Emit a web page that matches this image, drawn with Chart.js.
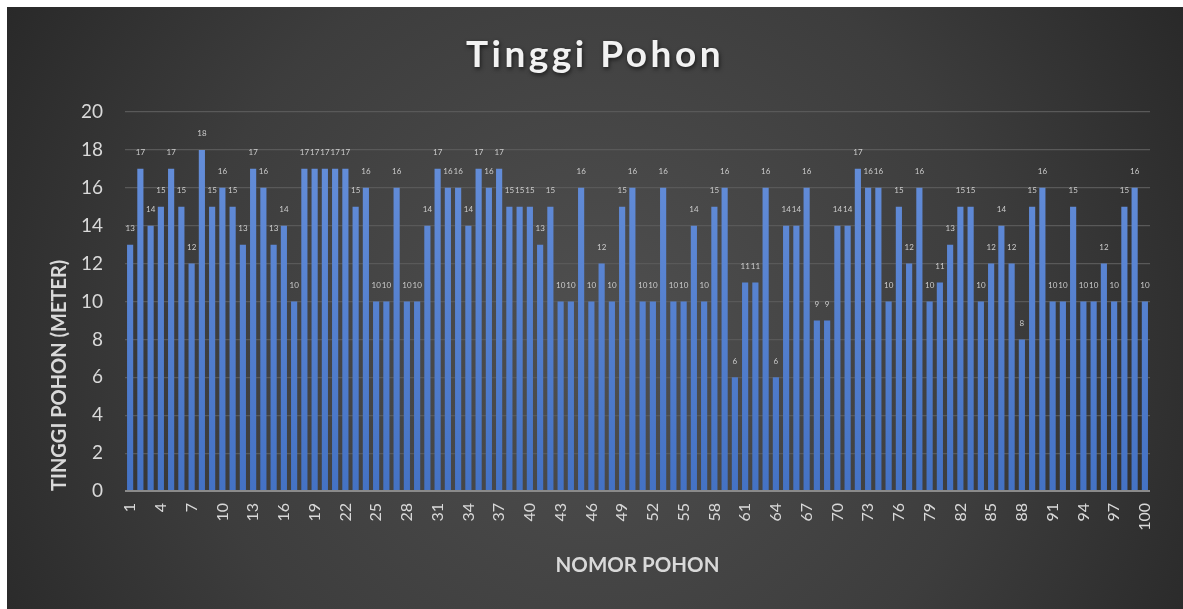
<!DOCTYPE html>
<html>
<head>
<meta charset="utf-8">
<script src="https://cdn.jsdelivr.net/npm/chart.js@4.4.1/dist/chart.umd.min.js"></script>
<style>
  html, body { margin: 0; padding: 0; background: #ffffff; }
  #wrap { position: absolute; left: 7px; top: 7px; width: 1176px; height: 602px; }
</style>
</head>
<body>
<div id="wrap"><canvas id="c"></canvas></div>
<script>
const TITLE = 'Tinggi Pohon';
const X_TITLE = 'NOMOR POHON';
const Y_TITLE = 'TINGGI POHON (METER)';
const CATEGORIES = Array.from({length: 100}, (_, i) => String(i + 1));
const HEIGHTS = [
  13, 17, 14, 15, 17, 15, 12, 18, 15, 16,
  15, 13, 17, 16, 13, 14, 10, 17, 17, 17,
  17, 17, 15, 16, 10, 10, 16, 10, 10, 14,
  17, 16, 16, 14, 17, 16, 17, 15, 15, 15,
  13, 15, 10, 10, 16, 10, 12, 10, 15, 16,
  10, 10, 16, 10, 10, 14, 10, 15, 16, 6,
  11, 11, 16, 6, 14, 14, 16, 9, 9, 14,
  14, 17, 16, 16, 10, 15, 12, 16, 10, 11,
  13, 15, 15, 10, 12, 14, 12, 8, 15, 16,
  10, 10, 15, 10, 10, 12, 10, 15, 16, 10
];
const Y_MIN = 0, Y_MAX = 20, Y_STEP = 2;

const bgPlugin = {
  id: 'bg',
  beforeDraw(chart) {
    const {ctx, width, height} = chart;
    ctx.save();
    const g = ctx.createRadialGradient(width * 0.5, height * 0.55, 10, width * 0.5, height * 0.55, width * 0.62);
    g.addColorStop(0, '#4f4f4f');
    g.addColorStop(0.55, '#3d3d3d');
    g.addColorStop(1, '#252525');
    ctx.fillStyle = g;
    ctx.fillRect(0, 0, width, height);
    ctx.restore();
  }
};

const titlePlugin = {
  id: 'customTitle',
  afterDraw(chart) {
    const {ctx} = chart;
    ctx.save();
    ctx.font = 'bold 37px Lato, "Open Sans", sans-serif';
    ctx.letterSpacing = '3.5px';
    ctx.fillStyle = '#f2f2f2';
    ctx.textAlign = 'center';
    ctx.textBaseline = 'middle';
    ctx.shadowColor = 'rgba(0,0,0,0.6)';
    ctx.shadowBlur = 4;
    ctx.shadowOffsetX = 1;
    ctx.shadowOffsetY = 2;
    ctx.fillText(TITLE, 588, 48);
    ctx.restore();
  }
};

const labelPlugin = {
  id: 'barLabels',
  afterDatasetsDraw(chart) {
    const {ctx} = chart;
    const meta = chart.getDatasetMeta(0);
    ctx.save();
    ctx.font = '8px Lato, "Open Sans", sans-serif';
    ctx.fillStyle = '#cccccc';
    ctx.textAlign = 'center';
    ctx.textBaseline = 'middle';
    meta.data.forEach((bar, i) => {
      ctx.fillText(String(HEIGHTS[i]), bar.x, bar.y - 16);
    });
    ctx.restore();
  }
};

const ctx = document.getElementById('c').getContext('2d');
new Chart(ctx, {
  type: 'bar',
  data: {
    labels: CATEGORIES,
    datasets: [{
      label: 'Tinggi Pohon',
      data: HEIGHTS,
      backgroundColor(context) {
        const area = context.chart.chartArea;
        if (!area) return '#4472c4';
        const g = context.chart.ctx.createLinearGradient(0, area.top, 0, area.bottom);
        g.addColorStop(0, '#6891dc');
        g.addColorStop(1, '#4472c4');
        return g;
      },
      borderWidth: 0,
      categoryPercentage: 1.0,
      barPercentage: 0.6
    }]
  },
  options: {
    responsive: true,
    maintainAspectRatio: false,
    animation: false,
    devicePixelRatio: 1,
    layout: { padding: { top: 105, right: 33, left: 0, bottom: 0 } },
    plugins: {
      legend: { display: false },
      title: { display: false },
      tooltip: { enabled: false }
    },
    scales: {
      x: {
        grid: { display: false, drawTicks: false },
        border: { display: false },
        ticks: {
          autoSkip: false,
          minRotation: 90,
          maxRotation: 90,
          padding: 12,
          color: '#d9d9d9',
          font: { family: 'Lato, "Open Sans", sans-serif', size: 16 },
          callback(value, index) { return index % 3 === 0 ? CATEGORIES[index] : ''; }
        },
        title: {
          display: true,
          text: X_TITLE,
          color: '#d9d9d9',
          font: { family: 'Lato, "Open Sans", sans-serif', size: 20.5, weight: 'bold' },
          padding: { top: 0, bottom: 31 }
        },
        afterFit(scale) { scale.height = 118; }
      },
      y: {
        min: Y_MIN,
        max: Y_MAX,
        grid: {
          drawTicks: false,
          lineWidth(c) { return c.tick && c.tick.value === 0 ? 2 : 1.2; },
          color(c) { return c.tick && c.tick.value === 0 ? '#8a8a8a' : '#595959'; }
        },
        border: { display: false },
        ticks: {
          stepSize: Y_STEP,
          padding: 22,
          color: '#d9d9d9',
          font: { family: 'Lato, "Open Sans", sans-serif', size: 19 }
        },
        title: {
          display: true,
          text: Y_TITLE,
          align: 'start',
          color: '#d9d9d9',
          font: { family: 'Lato, "Open Sans", sans-serif', size: 20, weight: 'bold' },
          padding: { top: 41, bottom: 0 }
        },
        afterFit(scale) { scale.width = 118; }
      }
    }
  },
  plugins: [bgPlugin, labelPlugin, titlePlugin]
});
</script>
</body>
</html>
